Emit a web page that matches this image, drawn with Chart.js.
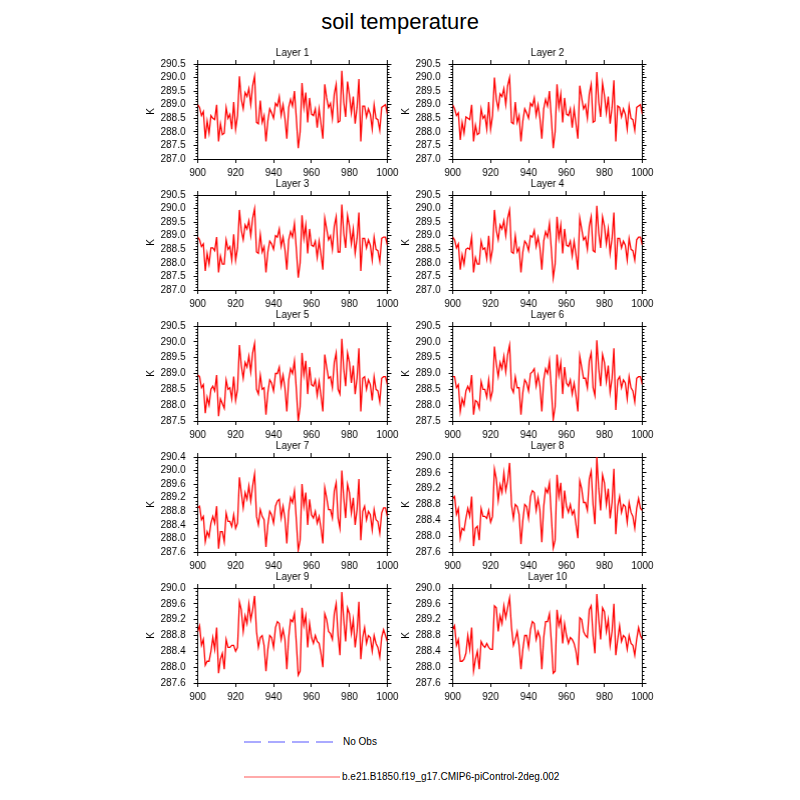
<!DOCTYPE html>
<html>
<head>
<meta charset="utf-8">
<script src="https://cdn.jsdelivr.net/npm/chart.js@4.4.1/dist/chart.umd.min.js"></script>
<style>
  body { margin: 0; background: #fff; width: 800px; height: 800px; position: relative; overflow: hidden; font-family: "Liberation Sans", Arial, sans-serif; }
  canvas { position: absolute; }
  #title { position: absolute; left: 0; width: 800px; top: 8px; height: 28px; line-height: 28px; text-align: center; font-size: 22px; color: #000; }
  .leg { position: absolute; left: 244px; height: 12px; font-size: 10px; line-height: 12px; color: #000; }
  .leg .line { position: absolute; left: 0; width: 96px; }
  .leg span { position: absolute; white-space: nowrap; }
</style>
</head>
<body>
<div id="title">soil temperature</div>

<div class="leg" style="top:736px">
  <div class="line" style="top:5px;height:2px;background:repeating-linear-gradient(to right,#aaaaff 0 17px,transparent 17px 24px)"></div>
  <span style="left:99px;top:0">No Obs</span>
</div>
<div class="leg" style="top:771px">
  <div class="line" style="top:5px;height:2px;background:#ffaaaa"></div>
  <span style="left:98px;top:0">b.e21.B1850.f19_g17.CMIP6-piControl-2deg.002</span>
</div>

<script>
// Data (years 900-1000, one value per year)
const years = Array.from({length: 101}, (_, i) => 900 + i);

const layer1 = [
  289.0, 288.9, 288.6, 288.75, 287.75, 288.4, 287.95, 288.6, 288.5, 288.45,
  289.0, 287.65, 288.3, 287.9, 287.95, 288.9, 288.5, 288.65, 288.1, 289.1,
  288.1, 288.6, 290.05, 289.2, 288.85, 289.45, 289.3, 289.6, 289.0, 289.7,
  290.05, 288.35, 288.3, 289.15, 288.35, 288.6, 287.65, 288.4, 288.85, 288.7,
  288.5, 289.05, 288.95, 289.3, 288.6, 289.0, 288.5, 287.75, 288.9, 289.2,
  288.95, 289.5, 288.5, 287.4, 288.0, 289.8, 288.9, 289.45, 288.35, 289.25,
  288.65, 288.6, 288.85, 288.15, 288.85, 288.3, 287.75, 289.75, 289.25, 288.9,
  289.05, 288.5, 289.4, 289.75, 288.35, 288.4, 290.25, 289.1, 288.55, 289.85,
  289.35, 288.7, 289.3, 288.3, 288.9, 289.95, 287.65, 288.95, 288.95, 288.55,
  288.85, 288.65, 288.1, 289.0, 288.5, 288.45, 288.05, 288.9, 288.95, 289.0,
  288.65
];
const layer2 = [
  289.0, 288.85, 288.6, 288.7, 287.7, 288.35, 287.95, 288.55, 288.5, 288.45,
  289.0, 287.65, 288.25, 287.9, 287.95, 288.85, 288.5, 288.6, 288.1, 289.1,
  288.1, 288.6, 290.0, 289.2, 288.85, 289.4, 289.3, 289.6, 289.0, 289.7,
  290.0, 288.35, 288.3, 289.1, 288.35, 288.6, 287.65, 288.4, 288.85, 288.7,
  288.5, 289.05, 288.95, 289.25, 288.6, 289.0, 288.5, 287.75, 288.85, 289.2,
  288.95, 289.5, 288.5, 287.4, 288.0, 289.75, 288.9, 289.4, 288.35, 289.25,
  288.65, 288.6, 288.85, 288.15, 288.85, 288.3, 287.75, 289.7, 289.25, 288.85,
  289.0, 288.5, 289.4, 289.75, 288.35, 288.4, 290.2, 289.1, 288.55, 289.8,
  289.35, 288.7, 289.3, 288.3, 288.9, 289.9, 287.65, 288.95, 288.9, 288.55,
  288.85, 288.65, 288.1, 288.95, 288.5, 288.45, 288.05, 288.9, 288.95, 289.0,
  288.65
];
const layer3 = [
  288.95, 288.85, 288.6, 288.7, 287.7, 288.35, 287.95, 288.55, 288.55, 288.45,
  288.95, 287.65, 288.25, 287.95, 287.95, 288.85, 288.5, 288.6, 288.1, 289.05,
  288.1, 288.55, 289.95, 289.2, 288.85, 289.4, 289.25, 289.55, 289.0, 289.65,
  290.0, 288.4, 288.35, 289.05, 288.4, 288.6, 287.65, 288.4, 288.8, 288.7,
  288.5, 289.0, 288.95, 289.25, 288.6, 288.95, 288.5, 287.75, 288.85, 289.15,
  288.95, 289.45, 288.5, 287.45, 288.0, 289.75, 288.9, 289.4, 288.35, 289.25,
  288.65, 288.6, 288.8, 288.2, 288.8, 288.3, 287.75, 289.65, 289.25, 288.85,
  289.0, 288.5, 289.35, 289.7, 288.4, 288.4, 290.15, 289.1, 288.55, 289.75,
  289.35, 288.7, 289.25, 288.35, 288.9, 289.85, 287.7, 288.9, 288.9, 288.55,
  288.85, 288.65, 288.1, 288.95, 288.5, 288.45, 288.05, 288.9, 288.95, 288.95,
  288.65
];
const layer4 = [
  288.95, 288.85, 288.55, 288.7, 287.75, 288.3, 287.95, 288.5, 288.55, 288.5,
  288.95, 287.65, 288.2, 287.95, 287.95, 288.8, 288.5, 288.55, 288.15, 289.0,
  288.1, 288.5, 289.95, 289.2, 288.85, 289.4, 289.25, 289.55, 289.0, 289.65,
  289.95, 288.4, 288.35, 289.0, 288.4, 288.55, 287.65, 288.4, 288.8, 288.7,
  288.45, 289.0, 288.95, 289.2, 288.6, 288.95, 288.55, 287.75, 288.8, 289.15,
  288.95, 289.45, 288.5, 287.45, 287.95, 289.7, 288.9, 289.4, 288.35, 289.25,
  288.65, 288.6, 288.8, 288.25, 288.8, 288.3, 287.75, 289.65, 289.25, 288.85,
  288.95, 288.5, 289.35, 289.7, 288.45, 288.4, 290.1, 289.1, 288.55, 289.7,
  289.35, 288.7, 289.25, 288.35, 288.9, 289.85, 287.75, 288.9, 288.9, 288.55,
  288.8, 288.65, 288.1, 288.9, 288.5, 288.45, 288.1, 288.85, 288.95, 288.95,
  288.65
];
const layer5 = [
  288.95, 288.9, 288.55, 288.65, 287.75, 288.25, 288.0, 288.5, 288.6, 288.45,
  288.95, 287.65, 288.2, 288.05, 287.9, 288.8, 288.5, 288.55, 288.2, 288.9,
  288.15, 288.5, 289.9, 289.25, 288.85, 289.35, 289.2, 289.55, 289.05, 289.65,
  289.95, 288.5, 288.35, 288.95, 288.5, 288.55, 287.7, 288.4, 288.8, 288.7,
  288.45, 289.0, 289.0, 289.2, 288.6, 288.95, 288.55, 287.8, 288.8, 289.15,
  289.0, 289.4, 288.5, 287.5, 287.95, 289.65, 288.95, 289.4, 288.35, 289.2,
  288.65, 288.6, 288.8, 288.3, 288.75, 288.3, 287.8, 289.6, 289.2, 288.85,
  288.9, 288.55, 289.35, 289.65, 288.5, 288.35, 290.1, 289.15, 288.6, 289.65,
  289.35, 288.7, 289.25, 288.35, 288.85, 289.8, 287.8, 288.85, 288.9, 288.5,
  288.8, 288.65, 288.15, 288.9, 288.5, 288.45, 288.1, 288.85, 288.9, 288.9,
  288.65
];
const layer6 = [
  288.9, 288.9, 288.55, 288.65, 287.8, 288.2, 288.0, 288.45, 288.6, 288.45,
  288.95, 287.7, 288.15, 288.1, 287.9, 288.75, 288.5, 288.5, 288.25, 288.8,
  288.2, 288.45, 289.85, 289.3, 288.9, 289.35, 289.15, 289.55, 289.05, 289.6,
  289.9, 288.55, 288.4, 288.9, 288.55, 288.55, 287.7, 288.4, 288.8, 288.7,
  288.45, 289.0, 289.05, 289.15, 288.6, 288.95, 288.6, 287.8, 288.8, 289.15,
  289.0, 289.4, 288.5, 287.55, 287.95, 289.6, 288.95, 289.35, 288.35, 289.2,
  288.7, 288.6, 288.8, 288.35, 288.7, 288.3, 287.8, 289.55, 289.2, 288.85,
  288.85, 288.55, 289.4, 289.65, 288.55, 288.3, 290.05, 289.15, 288.6, 289.6,
  289.35, 288.75, 289.25, 288.4, 288.85, 289.8, 287.85, 288.8, 288.9, 288.55,
  288.8, 288.7, 288.2, 288.9, 288.55, 288.45, 288.1, 288.85, 288.9, 288.9,
  288.65
];
const layer7 = [
  288.9, 288.95, 288.55, 288.65, 287.9, 288.2, 288.05, 288.45, 288.65, 288.45,
  288.95, 287.7, 288.2, 288.2, 287.9, 288.75, 288.5, 288.5, 288.35, 288.7,
  288.3, 288.45, 289.8, 289.35, 288.9, 289.35, 289.15, 289.55, 289.1, 289.55,
  289.9, 288.65, 288.4, 288.85, 288.65, 288.55, 287.75, 288.4, 288.8, 288.7,
  288.45, 288.95, 289.1, 289.15, 288.6, 288.95, 288.6, 287.85, 288.8, 289.2,
  289.05, 289.4, 288.55, 287.65, 287.95, 289.6, 288.95, 289.35, 288.4, 289.15,
  288.7, 288.6, 288.8, 288.45, 288.65, 288.3, 287.85, 289.5, 289.2, 288.85,
  288.85, 288.6, 289.4, 289.65, 288.6, 288.3, 290.0, 289.2, 288.6, 289.6,
  289.35, 288.75, 289.2, 288.4, 288.85, 289.75, 287.95, 288.8, 288.95, 288.55,
  288.8, 288.7, 288.25, 288.85, 288.55, 288.5, 288.15, 288.75, 288.9, 288.9,
  288.65
];
const layer8 = [
  288.95, 289.0, 288.55, 288.7, 287.95, 288.2, 288.15, 288.45, 288.7, 288.5,
  289.0, 287.75, 288.2, 288.25, 287.9, 288.7, 288.5, 288.5, 288.45, 288.65,
  288.35, 288.5, 289.7, 289.45, 288.9, 289.3, 289.1, 289.6, 289.15, 289.4,
  289.85, 288.8, 288.45, 288.8, 288.75, 288.55, 287.8, 288.4, 288.8, 288.75,
  288.45, 289.0, 289.15, 289.1, 288.65, 288.95, 288.65, 287.85, 288.75, 289.2,
  289.1, 289.35, 288.5, 287.7, 287.9, 289.55, 289.0, 289.35, 288.45, 289.15,
  288.75, 288.6, 288.8, 288.55, 288.65, 288.3, 287.95, 289.4, 289.2, 288.85,
  288.85, 288.65, 289.45, 289.65, 288.8, 288.3, 290.0, 289.2, 288.65, 289.55,
  289.35, 288.8, 289.2, 288.45, 288.85, 289.7, 288.05, 288.75, 289.0, 288.6,
  288.8, 288.75, 288.35, 288.85, 288.6, 288.5, 288.2, 288.7, 288.95, 288.7,
  288.65
];
const layer9 = [
  288.9, 289.05, 288.55, 288.7, 288.05, 288.15, 288.15, 288.4, 288.75, 288.45,
  289.0, 287.85, 288.2, 288.35, 287.95, 288.7, 288.5, 288.5, 288.55, 288.55,
  288.4, 288.5, 289.65, 289.45, 288.9, 289.3, 289.1, 289.6, 289.2, 289.45,
  289.8, 288.9, 288.5, 288.75, 288.8, 288.55, 287.9, 288.45, 288.8, 288.75,
  288.5, 289.0, 289.15, 289.1, 288.7, 288.95, 288.7, 287.95, 288.75, 289.2,
  289.15, 289.35, 288.6, 287.8, 287.9, 289.5, 289.05, 289.3, 288.5, 289.1,
  288.75, 288.6, 288.8, 288.65, 288.6, 288.35, 288.0, 289.35, 289.2, 288.9,
  288.85, 288.7, 289.35, 289.6, 288.8, 288.3, 289.9, 289.2, 288.65, 289.5,
  289.35, 288.85, 289.2, 288.5, 288.9, 289.65, 288.2, 288.75, 289.0, 288.6,
  288.8, 288.75, 288.4, 288.8, 288.6, 288.5, 288.25, 288.75, 288.95, 288.8,
  288.65
];
const layer10 = [
  288.95, 289.05, 288.55, 288.7, 288.15, 288.15, 288.2, 288.35, 288.8, 288.45,
  289.0, 287.9, 288.2, 288.4, 287.95, 288.65, 288.55, 288.5, 288.6, 288.5,
  288.45, 288.45, 289.55, 289.5, 288.9, 289.3, 289.1, 289.55, 289.25, 289.5,
  289.75, 289.0, 288.55, 288.7, 288.9, 288.55, 287.95, 288.45, 288.8, 288.8,
  288.5, 288.95, 289.15, 289.1, 288.7, 288.9, 288.75, 287.95, 288.75, 289.15,
  289.15, 289.35, 288.65, 287.85, 287.9, 289.45, 289.05, 289.25, 288.6, 289.1,
  288.8, 288.6, 288.75, 288.7, 288.6, 288.4, 288.05, 289.25, 289.2, 288.9,
  288.8, 288.75, 289.45, 289.55, 288.8, 288.35, 289.85, 289.2, 288.7, 289.5,
  289.4, 288.9, 289.2, 288.55, 288.9, 289.6, 288.3, 288.7, 289.05, 288.65,
  288.8, 288.75, 288.45, 288.8, 288.6, 288.55, 288.3, 288.7, 289.0, 288.8,
  288.7
];

const layers = [layer1, layer2, layer3, layer4, layer5, layer6, layer7, layer8, layer9, layer10];
const layerNames = ['Layer 1', 'Layer 2', 'Layer 3', 'Layer 4', 'Layer 5',
                    'Layer 6', 'Layer 7', 'Layer 8', 'Layer 9', 'Layer 10'];
const yMins  = [287.0, 287.0, 287.0, 287.0, 287.5, 287.5, 287.6, 287.6, 287.6, 287.6];
const yMaxs  = [290.5, 290.5, 290.5, 290.5, 290.5, 290.5, 290.4, 290.0, 290.0, 290.0];
const ySteps = [0.5, 0.5, 0.5, 0.5, 0.5, 0.5, 0.4, 0.4, 0.4, 0.4];

// Layout: plot areas
const PLOT_LEFT = [197.5, 452.5];
const PLOT_W = 189.5;
const PLOT_TOP0 = 64;
const ROW_STEP = 131;
const PLOT_H = 95;
const Y_AXIS_W = 57.5;   // same on both sides so the panel title centres on the plot
const TOP_H = 24;        // title + top ticks
const BOTTOM_H = 24;     // bottom ticks + labels
const CANVAS_W = Y_AXIS_W * 2 + PLOT_W;

Chart.defaults.font.family = '"Liberation Sans", Arial, Helvetica, sans-serif';
Chart.defaults.font.size = 10;
Chart.defaults.color = '#000';

function fixW(w) { return s => { s.width = w; }; }
function fixH(h) { return s => { s.height = h; }; }

layers.forEach((data, i) => {
  const col = i % 2;
  const row = Math.floor(i / 2);
  const canvas = document.createElement('canvas');
  const left = PLOT_LEFT[col] - Y_AXIS_W;
  const top = PLOT_TOP0 + row * ROW_STEP - TOP_H;
  const height = TOP_H + PLOT_H + BOTTOM_H;
  canvas.width = CANVAS_W;
  canvas.height = height;
  canvas.style.left = left + 'px';
  canvas.style.top = top + 'px';
  canvas.style.width = CANVAS_W + 'px';
  canvas.style.height = height + 'px';
  document.body.appendChild(canvas);

  const tickGrid = len => ({ drawOnChartArea: false, drawTicks: true, tickLength: len, color: '#000', tickWidth: 1 });

  new Chart(canvas.getContext('2d'), {
    type: 'line',
    data: {
      datasets: [{
        label: 'b.e21.B1850.f19_g17.CMIP6-piControl-2deg.002',
        data: years.map((y, k) => ({ x: y, y: data[k] })),
        borderColor: '#ff0000',
        borderWidth: 1.3,
        pointRadius: 0,
        tension: 0,
        fill: false,
      }]
    },
    options: {
      responsive: false,
      animation: false,
      devicePixelRatio: 1,
      layout: { padding: 0, autoPadding: false },
      plugins: {
        legend: { display: false },
        tooltip: { enabled: false },
        title: {
          display: true,
          text: layerNames[i],
          font: { size: 10, weight: 'normal' },
          color: '#000',
          padding: { top: 7, bottom: 0 },
        }
      },
      scales: {
        x: {
          type: 'linear', position: 'bottom', min: 900, max: 1000,
          grid: tickGrid(4),
          border: { display: true, color: '#000', width: 1 },
          ticks: { stepSize: 20, padding: 4, maxRotation: 0, callback: v => String(v) },
          afterFit: fixH(BOTTOM_H),
        },
        x2: {
          type: 'linear', position: 'top', min: 900, max: 1000,
          grid: tickGrid(4),
          border: { display: true, color: '#000', width: 1 },
          ticks: { display: false, stepSize: 20 },
          afterFit: fixH(5),
        },
        y: {
          type: 'linear', position: 'left', min: yMins[i], max: yMaxs[i],
          grid: tickGrid(4),
          border: { display: true, color: '#000', width: 1 },
          ticks: { stepSize: ySteps[i], padding: 8, autoSkip: false, callback: v => v.toFixed(1) },
          title: { display: true, text: 'K', font: { size: 10 }, padding: { top: 5, bottom: 0 } },
          afterFit: fixW(Y_AXIS_W),
        },
        yMinor: {
          type: 'linear', position: 'left', weight: -1, min: yMins[i], max: yMaxs[i],
          grid: tickGrid(2),
          border: { display: false },
          ticks: { display: false, stepSize: 0.1, autoSkip: false },
          afterFit: fixW(0),
        },
        y2: {
          type: 'linear', position: 'right', min: yMins[i], max: yMaxs[i],
          grid: tickGrid(4),
          border: { display: true, color: '#000', width: 1 },
          ticks: { display: false, stepSize: ySteps[i], autoSkip: false },
          afterFit: fixW(Y_AXIS_W),
        },
        y2Minor: {
          type: 'linear', position: 'right', weight: -1, min: yMins[i], max: yMaxs[i],
          grid: tickGrid(2),
          border: { display: false },
          ticks: { display: false, stepSize: 0.1, autoSkip: false },
          afterFit: fixW(0),
        },
      }
    }
  });
});
</script>
</body>
</html>
